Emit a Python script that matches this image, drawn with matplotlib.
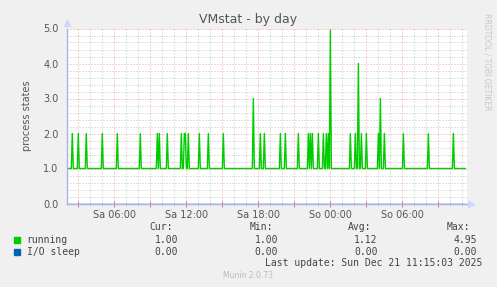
import matplotlib
matplotlib.use('Agg')
import matplotlib.pyplot as plt
import matplotlib.dates as mdates
import pandas as pd

# data: 5-min samples, "running" sits at 1.0 except for these spikes
spike_times = [
    '2025-12-20 02:30', '2025-12-20 03:00', '2025-12-20 03:40', '2025-12-20 05:00',
    '2025-12-20 06:15', '2025-12-20 08:10', '2025-12-20 09:35', '2025-12-20 09:45',
    '2025-12-20 10:25', '2025-12-20 11:35', '2025-12-20 11:50', '2025-12-20 11:55',
    '2025-12-20 12:10', '2025-12-20 13:05', '2025-12-20 13:50', '2025-12-20 15:05',
    '2025-12-20 17:35', '2025-12-20 18:10', '2025-12-20 18:30', '2025-12-20 19:50',
    '2025-12-20 20:15', '2025-12-20 21:20', '2025-12-20 22:10', '2025-12-20 22:20',
    '2025-12-20 22:30', '2025-12-20 23:00', '2025-12-20 23:25', '2025-12-20 23:40',
    '2025-12-20 23:50', '2025-12-21 00:00', '2025-12-21 01:40', '2025-12-21 02:05',
    '2025-12-21 02:20', '2025-12-21 02:35', '2025-12-21 03:00', '2025-12-21 04:00',
    '2025-12-21 04:10', '2025-12-21 04:30', '2025-12-21 06:05', '2025-12-21 08:10',
    '2025-12-21 10:15',
]
spike_values = [
    2, 2, 2, 2, 2, 2, 2, 2, 2, 2, 2, 2, 2, 2, 2, 2,
    3, 2, 2, 2, 2, 2, 2, 2, 2, 2, 2, 2, 2, 4.95, 2, 2,
    4, 2, 2, 2, 3, 2, 2, 2, 2,
]
base_running = 1.0
base_iosleep = 0.0

series_names = ['running', 'I/O sleep']
series_colors = ['#00CC00', '#0066B3']
stats_cur = ['1.00', '0.00']
stats_min = ['1.00', '0.00']
stats_avg = ['1.12', '0.00']
stats_max = ['4.95', '0.00']

t_start = pd.Timestamp('2025-12-20 02:02')
t_end = pd.Timestamp('2025-12-21 11:23')
idx = pd.date_range('2025-12-20 02:05', '2025-12-21 11:15', freq='5min')
running = pd.Series(base_running, index=idx)
running[pd.to_datetime(spike_times)] = spike_values
iosleep = pd.Series(base_iosleep, index=idx)

W, H = 497, 287
fig = plt.figure(figsize=(W / 100, H / 100), dpi=100)
fig.patch.set_facecolor('#F0F0F0')

x0, x1, ytop, ybot = 66.7, 467, 28.5, 203.5
ax = fig.add_axes([x0 / W, 1 - ybot / H, (x1 - x0) / W, (ybot - ytop) / H])
ax.set_facecolor('white')

ax.plot(iosleep.index, iosleep.values, color=series_colors[1], lw=1, zorder=2)
ax.plot(running.index, running.values, color=series_colors[0], lw=1, zorder=3)

ax.set_xlim(t_start, t_end)
ax.set_ylim(0, 5)

ax.yaxis.set_major_locator(plt.MultipleLocator(1))
ax.yaxis.set_minor_locator(plt.MultipleLocator(0.2))
ax.yaxis.set_major_formatter(plt.FormatStrFormatter('%.1f'))

days = ['Mo', 'Di', 'Mi', 'Do', 'Fr', 'Sa', 'So']
def fmt_x(v, pos):
    d = mdates.num2date(v)
    if d.hour % 6 != 0:
        return ''
    return '%s %02d:00' % (days[d.weekday()], d.hour)

ax.xaxis.set_major_locator(mdates.HourLocator(byhour=range(0, 24, 3)))
ax.xaxis.set_minor_locator(mdates.HourLocator())
ax.xaxis.set_major_formatter(plt.FuncFormatter(fmt_x))

grid_kw = dict(linestyle=(0, (1, 2)), linewidth=0.72)
ax.grid(which='minor', color='#C4C4C4', **grid_kw)
ax.grid(which='major', color='#F0A0A0', **grid_kw)
ax.set_axisbelow(True)

for s in ['top', 'right']:
    ax.spines[s].set_visible(False)
for s in ['left', 'bottom']:
    ax.spines[s].set_color('#A8B2EC')
    ax.spines[s].set_linewidth(1)
    ax.spines[s].set_zorder(4)

ax.tick_params(axis='y', which='both', length=0, labelsize=7, labelcolor='#555555', pad=6)
ax.tick_params(axis='x', which='major', length=4, direction='inout', color='#F08080',
               labelsize=7, labelcolor='#555555', pad=3)
ax.tick_params(axis='x', which='minor', length=3, direction='inout', color='#C8C8C8')

# arrow heads
ax.plot([0], [1.03], marker='^', color='#CFD6F8', ms=4, transform=ax.transAxes, clip_on=False)
ax.plot([1.01], [0], marker='>', color='#CFD6F8', ms=4, transform=ax.transAxes, clip_on=False)

ax.set_ylabel('process states', fontsize=7, color='#555555', labelpad=8)

fig.text(248.5 / W, 1 - 19 / H, 'VMstat - by day', ha='center', va='center',
         fontsize=9, color='#555555')
fig.text(487 / W, 1 - 13 / H, 'RRDTOOL / TOBI OETIKER', rotation=270, ha='center', va='top',
         fontsize=5.5, color='#C8C8C8')

mono = dict(family='DejaVu Sans Mono', fontsize=7, color='#444444', va='center')
head_y = 227.5
fig.text(172.7 / W, 1 - head_y / H, 'Cur:', ha='right', **mono)
fig.text(273 / W, 1 - head_y / H, 'Min:', ha='right', **mono)
fig.text(371 / W, 1 - head_y / H, 'Avg:', ha='right', **mono)
fig.text(470 / W, 1 - head_y / H, 'Max:', ha='right', **mono)

for i, name in enumerate(series_names):
    yy = 1 - (240 + 11.7 * i) / H
    fig.patches.append(plt.Rectangle((14 / W, yy - 3 / H), 6 / W, 6 / H,
                                     transform=fig.transFigure, color=series_colors[i]))
    fig.text(26.7 / W, yy, name, ha='left', **mono)
    fig.text(178 / W, yy, stats_cur[i], ha='right', **mono)
    fig.text(278 / W, yy, stats_min[i], ha='right', **mono)
    fig.text(377.5 / W, yy, stats_avg[i], ha='right', **mono)
    fig.text(477 / W, yy, stats_max[i], ha='right', **mono)

fig.text(482 / W, 1 - 263.5 / H, 'Last update: Sun Dec 21 11:15:03 2025', ha='right', **mono)
fig.text(248 / W, 1 - 276 / H, 'Munin 2.0.73', ha='center', va='center',
         fontsize=5.5, color='#BBBBBB')

fig.savefig('out.png', dpi=100, facecolor=fig.get_facecolor())
